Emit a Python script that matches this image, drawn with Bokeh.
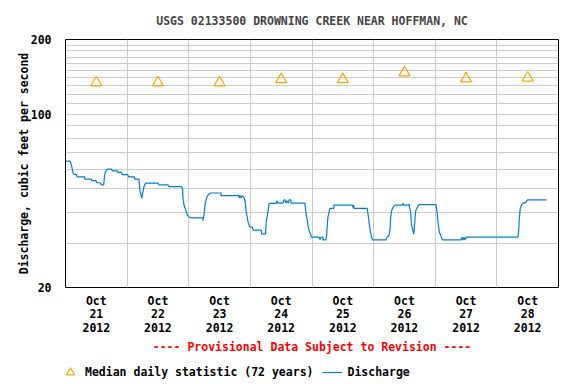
from bokeh.plotting import figure
from bokeh.layouts import column
from bokeh.models import FixedTicker, Legend, LegendItem, Title
from bokeh.embed import file_html
from bokeh.resources import INLINE

title_text = "USGS 02133500 DROWNING CREEK NEAR HOFFMAN, NC"
y_label = "Discharge, cubic feet per second"
notice = "---- Provisional Data Subject to Revision ----"
median_label = "Median daily statistic (72 years)"
line_label = "Discharge"

day_labels = ["Oct\n21\n2012", "Oct\n22\n2012", "Oct\n23\n2012", "Oct\n24\n2012",
              "Oct\n25\n2012", "Oct\n26\n2012", "Oct\n27\n2012", "Oct\n28\n2012"]
y_tick_values = [20, 100, 200]
y_grid_values = [30, 40, 50, 60, 70, 80, 90, 100, 110, 120, 130, 140, 150, 160, 170, 180, 190]

# median daily statistic, one per day (cfs)
median_cfs = [134, 134, 134, 138, 138, 147, 139, 140]

# discharge: hours since Oct 21 2012 00:00, value in cfs
hours = [0.0, 1.7, 2.2, 2.5, 2.9, 3.2, 4.3, 4.5, 7.5, 7.5, 10.0, 10.3, 11.9, 12.2, 13.6, 13.9,
         14.9, 15.2, 15.5, 16.0, 16.5, 17.9, 18.2, 20.1, 20.4, 21.8, 22.1, 24.3, 24.5, 26.8,
         27.0, 28.6, 28.8, 29.0, 29.3, 29.7, 30.0, 30.5, 30.8, 31.3, 36.1, 36.4, 39.9, 40.3,
         45.2, 45.6, 45.8, 46.2, 46.8, 47.4, 48.0, 48.7, 53.5, 53.5, 53.9, 54.3, 54.7, 55.1,
         55.6, 56.2, 56.8, 60.6, 60.6, 67.5, 67.7, 68.0, 68.4, 68.8, 69.5, 69.9, 70.4, 70.8,
         71.2, 71.7, 72.7, 73.1, 76.2, 76.4, 77.9, 78.2, 78.6, 79.0, 79.3, 82.1, 82.3, 82.7,
         84.7, 85.1, 85.5, 85.8, 86.2, 86.8, 87.1, 87.8, 87.8, 93.2,
         93.4, 93.8, 94.2, 94.5, 94.9, 95.5, 95.8, 98.8, 99.1, 99.5, 100.3, 100.3, 101.4,
         101.7, 101.9, 102.2, 102.5, 102.9, 103.2, 104.5, 104.5, 111.7, 111.9, 112.3, 112.3,
         117.5, 117.9, 118.3, 118.7, 119.1, 119.6, 124.8, 125.2, 126.0, 126.4, 126.6, 127.0,
         127.4, 127.8, 128.3, 131.2, 131.4, 131.8, 133.5, 133.8, 134.0, 134.4, 134.8, 135.2,
         135.6, 135.8, 136.1, 136.4, 136.7, 137.4, 137.9, 144.3, 144.7, 145.1, 145.6, 146.0,
         146.8, 154.1, 154.4, 154.8, 155.2, 155.6, 156.0, 176.2, 176.5, 176.7, 177.1, 177.5,
         178.0, 179.3, 179.9, 187.3]
cfs = [64.7, 64.7, 62.9, 61.0, 58.2, 57.3, 57.0, 55.9, 55.9, 54.7, 54.7, 53.9, 53.9, 52.9, 52.9, 51.9,
       51.9, 56.5, 58.2, 59.5, 60.0, 60.0, 59.1, 59.1, 58.2, 58.2, 57.0, 57.0, 55.9, 55.9,
       54.7, 54.7, 52.3, 49.1, 47.6, 45.9, 47.6, 50.7, 51.9, 52.7, 52.7, 51.9, 51.9, 51.0,
       51.0, 49.9, 45.5, 42.8, 41.1, 39.3, 38.6, 38.2, 38.2, 37.2, 39.0, 42.8, 44.8, 46.5,
       47.3, 47.9, 48.1, 48.1, 46.9, 46.9, 45.9, 46.9, 45.9, 46.9, 46.2, 44.8, 40.2, 38.4,
       36.3, 35.2, 35.0, 34.1, 34.1, 32.9, 32.9, 37.2, 39.0, 41.5, 43.7, 43.7, 44.8, 43.8,
       43.8, 45.1, 45.1, 43.8, 44.8, 43.8, 45.1, 45.1, 43.8, 43.8,
       42.1, 39.0, 37.2, 35.2, 33.9, 32.7, 31.9, 31.9, 31.2, 31.9, 31.9, 31.1, 31.1,
       32.4, 35.0, 38.4, 39.6, 41.5, 41.7, 41.7, 43.0, 43.0, 42.1, 43.0, 41.7,
       41.7, 39.0, 36.1, 33.9, 32.1, 31.1, 31.1, 31.9, 32.4, 34.4, 37.8, 40.8,
       41.7, 42.5, 43.0, 43.0, 43.7, 43.0, 43.0, 43.4, 42.1, 40.2, 35.5, 34.4,
       32.9, 34.4, 37.8, 40.8, 41.5, 42.8, 43.2, 43.2, 40.2, 36.6, 33.4, 32.7,
       31.1, 31.1, 31.9, 31.1, 31.9, 31.1, 31.9, 31.9, 33.9, 37.8, 41.5, 42.8,
       43.7, 44.1, 45.1, 45.1]

FONT = "DejaVu Sans Mono"
FS = "11.5px"
GRID = "#cccccc"
LINE_COLOR = "#0080D0"
MED_COLOR = "#FFA500"

n_days = len(day_labels)
day_x = [h / 24.0 for h in hours]
mid_x = [i + 0.5 for i in range(n_days)]

p = figure(width=576, height=358, output_backend="svg", toolbar_location=None,
           y_axis_type="log", x_range=(0, n_days), y_range=(20, 200),
           min_border_left=65, min_border_right=18, min_border_top=38, min_border_bottom=71)
p.background_fill_color = "white"
p.border_fill_color = "white"
p.outline_line_color = "black"
p.outline_line_width = 1

p.title.text = title_text
p.title.align = "center"
p.title.text_font = FONT
p.title.text_font_size = FS
p.title.text_font_style = "bold"
p.title.standoff = 23

# axes
p.xaxis.ticker = FixedTicker(ticks=mid_x)
p.xaxis.major_label_overrides = {x: lab for x, lab in zip(mid_x, day_labels)}
p.yaxis.ticker = FixedTicker(ticks=y_tick_values)
p.yaxis.major_label_overrides = {v: str(v) for v in y_tick_values}
p.yaxis.axis_label = y_label
for ax in (p.xaxis, p.yaxis):
    ax.axis_line_color = None
    ax.major_tick_line_color = None
    ax.minor_tick_line_color = None
    ax.major_label_text_font = FONT
    ax.major_label_text_font_size = FS
    ax.major_label_text_font_style = "bold"
    ax.major_label_text_color = "black"
    ax.axis_label_text_font = FONT
    ax.axis_label_text_font_size = FS
    ax.axis_label_text_font_style = "bold"
    ax.axis_label_text_color = "black"
p.xaxis.major_label_text_line_height = 0.97
p.xaxis.major_label_standoff = 0
p.yaxis.major_label_standoff = 8
p.yaxis.axis_label_standoff = -3

# grids
p.xgrid.ticker = FixedTicker(ticks=list(range(1, n_days)))
p.ygrid.ticker = FixedTicker(ticks=y_grid_values)
for g in (p.xgrid, p.ygrid):
    g.grid_line_color = GRID
    g.grid_line_width = 1

p.line(day_x, cfs, line_color=LINE_COLOR, line_width=1.2)
p.scatter(mid_x, median_cfs, marker="triangle", size=11, fill_color=None,
          line_color=MED_COLOR, line_width=1.2)

p.add_layout(Title(text=notice, align="center", text_color="#FF0000", text_font=FONT,
                   text_font_size=FS, text_font_style="bold", standoff=0), "below")

# legend strip under the chart (same series, outside its visible range, only used as keys)
lg = figure(width=576, height=26, output_backend="svg", toolbar_location=None,
            x_range=(-100, -99), y_range=(-100, -99),
            min_border_left=0, min_border_right=0, min_border_top=0, min_border_bottom=0)
lg.axis.visible = False
lg.grid.visible = False
lg.outline_line_color = None
lg.border_fill_color = "white"
lg.background_fill_color = "white"
tri_key = lg.scatter(mid_x, median_cfs, marker="triangle", size=11, fill_color=None,
                     line_color=MED_COLOR, line_width=1.2)
line_key = lg.line(day_x, cfs, line_color=LINE_COLOR, line_width=1.2)
legend = Legend(items=[LegendItem(label=median_label, renderers=[tri_key]),
                       LegendItem(label=line_label, renderers=[line_key])],
                location=(-5, 2), orientation="horizontal", padding=0, margin=0,
                spacing=9, label_standoff=5, glyph_width=20, glyph_height=20,
                border_line_color=None, background_fill_alpha=0,
                label_text_font=FONT, label_text_font_size=FS, label_text_font_style="bold",
                label_text_color="black")
lg.add_layout(legend)

page = column(p, lg, spacing=0)
open("out.html", "w").write(file_html(page, INLINE))
